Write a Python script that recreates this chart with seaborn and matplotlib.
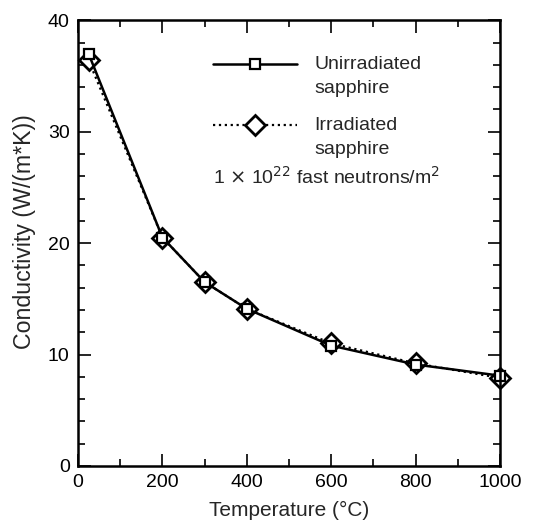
import numpy as np
import pandas as pd
import matplotlib
matplotlib.use("Agg")
import matplotlib.pyplot as plt
import seaborn as sns
from matplotlib.ticker import MultipleLocator
from matplotlib.legend_handler import HandlerLine2D

# values
temperature = [25, 200, 300, 400, 600, 800, 1000]
unirradiated = [37.0, 20.5, 16.5, 14.1, 10.8, 9.1, 8.1]
irradiated = [36.4, 20.5, 16.5, 14.1, 11.0, 9.2, 7.9]

df = pd.DataFrame({
    "Temperature": temperature * 2,
    "Conductivity": unirradiated + irradiated,
    "Sample": ["Unirradiated\nsapphire"] * len(temperature) + ["Irradiated\nsapphire"] * len(temperature),
})


# legend handle lined up with the first line of a two-line label
class TopLineHandler(HandlerLine2D):
    def create_artists(self, legend, orig_handle, xdescent, ydescent, width, height, fontsize, trans):
        return super().create_artists(legend, orig_handle, xdescent, ydescent - 1.25 * fontsize,
                                      width, height, fontsize, trans)


sns.set_style("ticks")
plt.rcParams["font.family"] = ["Liberation Sans", "DejaVu Sans"]

fig = plt.figure(figsize=(5.51, 5.20), dpi=100)
ax = fig.add_axes([0.1416, 0.104, 0.766, 0.857])

# irradiated drawn first so the squares sit on top
sns.lineplot(data=df[df["Sample"] == "Irradiated\nsapphire"], x="Temperature", y="Conductivity",
             ax=ax, color="black", linestyle=":", linewidth=1.6, marker="D", markersize=10,
             markerfacecolor="white", markeredgecolor="black", markeredgewidth=2,
             label="Irradiated\nsapphire", clip_on=False)
sns.lineplot(data=df[df["Sample"] == "Unirradiated\nsapphire"], x="Temperature", y="Conductivity",
             ax=ax, color="black", linestyle="-", linewidth=1.8, marker="s", markersize=7,
             markerfacecolor="white", markeredgecolor="black", markeredgewidth=1.6,
             label="Unirradiated\nsapphire", clip_on=False)

ax.set_xlim(0, 1000)
ax.set_ylim(0, 40)
ax.xaxis.set_major_locator(MultipleLocator(200))
ax.xaxis.set_minor_locator(MultipleLocator(100))
ax.yaxis.set_major_locator(MultipleLocator(10))
ax.yaxis.set_minor_locator(MultipleLocator(2))
ax.tick_params(which="both", direction="in", top=True, right=True, labelsize=14, width=1.2, colors="black")
ax.tick_params(which="major", length=9, pad=6)
ax.tick_params(which="minor", length=5)
for s in ax.spines.values():
    s.set_linewidth(1.8)
    s.set_color("black")

ax.set_xlabel("Temperature (°C)", fontsize=15, labelpad=7)
ax.set_ylabel("Conductivity (W/(m*K))", fontsize=16.7)
ax.yaxis.set_label_coords(-0.10, 0.525)

handles, labels = ax.get_legend_handles_labels()
leg = ax.legend(handles[::-1], labels[::-1], loc="upper left", bbox_to_anchor=(0.32, 0.919),
                frameon=False, fontsize=14, handlelength=4.3, labelspacing=1.06, handletextpad=0.9,
                borderpad=0, borderaxespad=0,
                handler_map={h: TopLineHandler() for h in handles})
for t in leg.get_texts():
    t.set_linespacing(1.5)
ax.text(0.32, 0.648, r"1 $\times$ 10$^{22}$ fast neutrons/m$^2$", transform=ax.transAxes,
        fontsize=14, ha="left", va="center")

fig.savefig("out.png", dpi=100)
